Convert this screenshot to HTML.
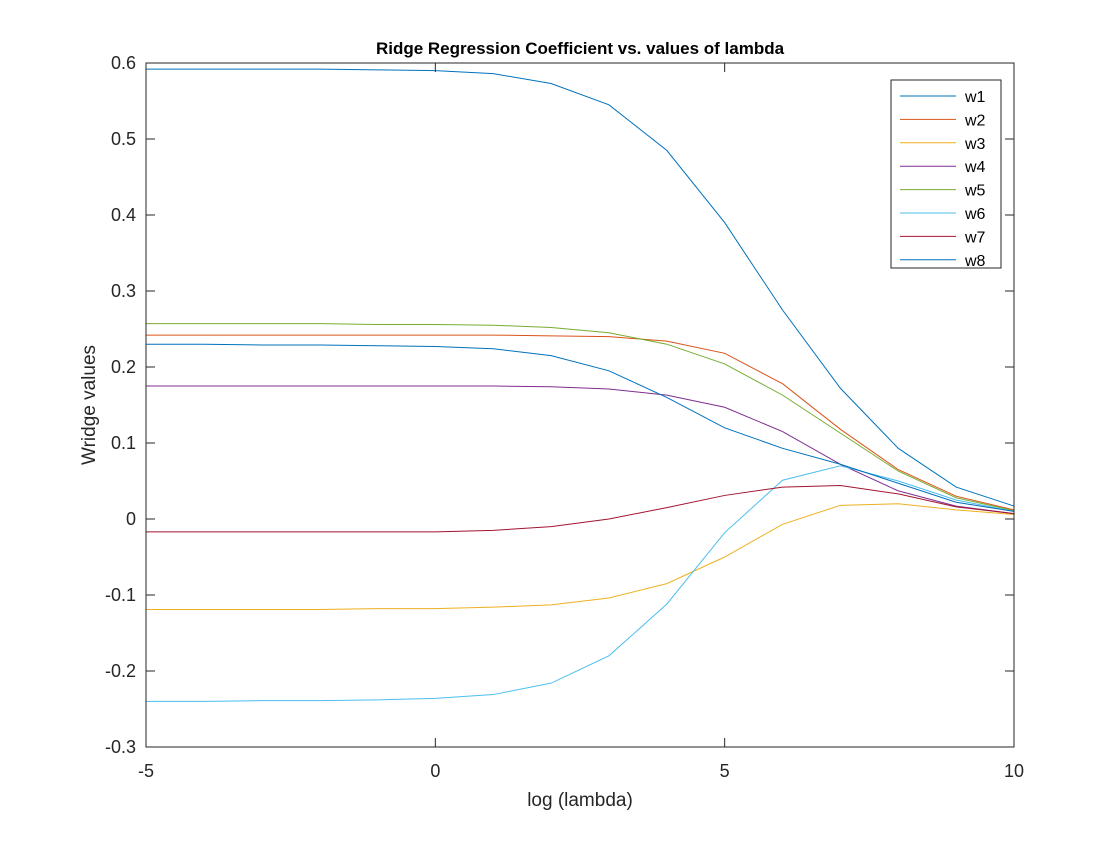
<!DOCTYPE html>
<html><head><meta charset="utf-8"><style>
html,body{margin:0;padding:0;background:#fff;}
svg text{font-family:"Liberation Sans",sans-serif;}
</style></head><body>
<svg id="chart" width="1120" height="840">
<rect x="0" y="0" width="1120" height="840" fill="#fff"/>
<rect x="146" y="63" width="868" height="684" fill="#fff"/>
<g id="marks"></g>
<g id="axes"></g>
<rect x="146" y="63" width="868" height="684" fill="none" stroke="#262626" stroke-width="1"/>
<text x="580" y="54" text-anchor="middle" font-size="17" font-weight="bold" fill="#000">Ridge Regression Coefficient vs. values of lambda</text>
<text x="580" y="806" text-anchor="middle" font-size="19" fill="#262626">log (lambda)</text>
<text transform="translate(95,405) rotate(-90)" text-anchor="middle" font-size="19" fill="#262626">Wridge values</text>
<g id="legend"></g>
</svg>
<script>
const xs=[-5,-4,-3,-2,-1,0,1,2,3,4,5,6,7,8,9,10];
const w1=[0.592,0.592,0.592,0.592,0.591,0.590,0.586,0.573,0.545,0.485,0.390,0.275,0.172,0.093,0.042,0.017];
const w2=[0.242,0.242,0.242,0.242,0.242,0.242,0.242,0.241,0.240,0.234,0.218,0.178,0.118,0.065,0.030,0.012];
const w3=[-0.119,-0.119,-0.119,-0.119,-0.118,-0.118,-0.116,-0.113,-0.104,-0.085,-0.050,-0.007,0.018,0.020,0.012,0.006];
const w4=[0.175,0.175,0.175,0.175,0.175,0.175,0.175,0.174,0.171,0.163,0.147,0.115,0.072,0.037,0.017,0.007];
const w5=[0.257,0.257,0.257,0.257,0.256,0.256,0.255,0.252,0.245,0.230,0.204,0.163,0.113,0.063,0.028,0.011];
const w6=[-0.240,-0.240,-0.239,-0.239,-0.238,-0.236,-0.231,-0.216,-0.180,-0.112,-0.018,0.051,0.070,0.050,0.025,0.010];
const w7=[-0.017,-0.017,-0.017,-0.017,-0.017,-0.017,-0.015,-0.010,0.000,0.015,0.031,0.042,0.044,0.033,0.016,0.007];
const w8=[0.230,0.230,0.229,0.229,0.228,0.227,0.224,0.215,0.195,0.160,0.120,0.093,0.072,0.047,0.022,0.010];
const seriesNames=["w1","w2","w3","w4","w5","w6","w7","w8"];
const xTicks=[-5,0,5,10];
const yTicks=[-0.3,-0.2,-0.1,0,0.1,0.2,0.3,0.4,0.5,0.6];
const colors=["#0072BD","#D95319","#EDB120","#7E2F8E","#77AC30","#4DBEEE","#A2142F","#0072BD"];
const series=[w1,w2,w3,w4,w5,w6,w7,w8];
const NS="http://www.w3.org/2000/svg";
const X0=146,X1=1014,Y0=747,Y1=63;
const sx=v=>X0+(v-(-5))/15*(X1-X0);
const sy=v=>Y0-(v-(-0.3))/0.9*(Y0-Y1);
function mk(tag,attrs,parent){const e=document.createElementNS(NS,tag);for(const k in attrs)e.setAttribute(k,attrs[k]);parent.appendChild(e);return e;}
const marks=document.getElementById('marks');
series.forEach((s,i)=>{
 const p=mk('polyline',{points:s.map((v,j)=>sx(xs[j])+','+sy(v)).join(' '),fill:'none',stroke:colors[i],'stroke-width':1},marks);
 
 
});
const axes=document.getElementById('axes');
xTicks.forEach(t=>{
 const x=sx(t);
 mk('line',{x1:x,x2:x,y1:Y0,y2:Y0-9,stroke:'#262626'},axes);
 mk('line',{x1:x,x2:x,y1:Y1,y2:Y1+9,stroke:'#262626'},axes);
 const tx=mk('text',{x:x,y:Y0+30,'text-anchor':'middle','font-size':18,fill:'#262626'},axes);
 tx.textContent=t;
 
 
});
yTicks.forEach(t=>{
 const y=sy(t);
 mk('line',{x1:X0,x2:X0+9,y1:y,y2:y,stroke:'#262626'},axes);
 mk('line',{x1:X1,x2:X1-9,y1:y,y2:y,stroke:'#262626'},axes);
 const tx=mk('text',{x:X0-10,y:y+6,'text-anchor':'end','font-size':18,fill:'#262626'},axes);
 tx.textContent=(Math.abs(t)<1e-9?'0':t.toFixed(1));
 
 
});
const lg=document.getElementById('legend');
const box=mk('rect',{x:891,y:80,width:110,height:188,fill:'#fff',stroke:'#262626','stroke-width':1},lg);


seriesNames.forEach((n,i)=>{
 const y=96+i*23.4;
 const g=mk('g',{},lg);
 
 
 mk('line',{x1:900,x2:956,y1:y,y2:y,stroke:colors[i],'stroke-width':1},g);
 const t=mk('text',{x:965,y:y+6,'font-size':16,fill:'#000'},g);
 t.textContent=n;
});
</script>
</body></html>
